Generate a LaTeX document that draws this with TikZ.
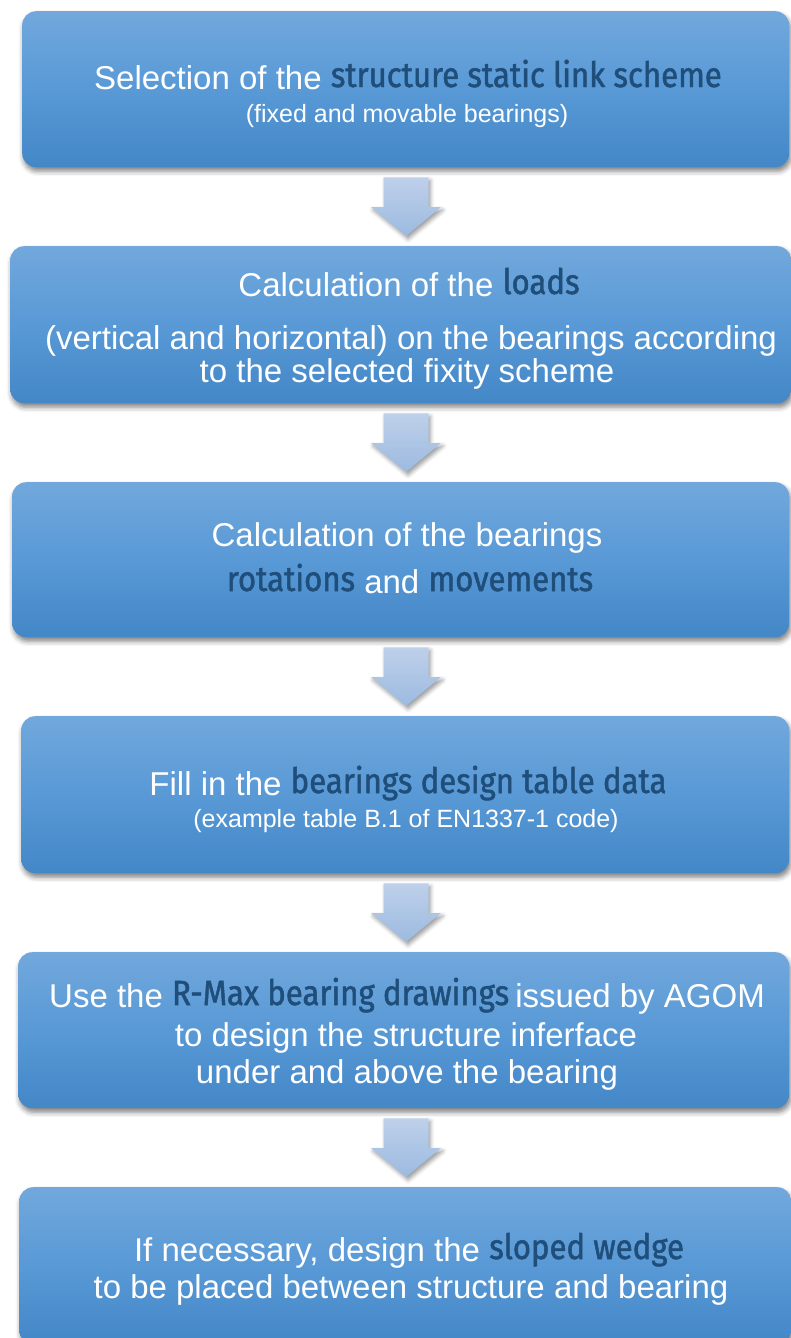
\documentclass[tikz,border=0pt]{standalone}
\usepackage{fontspec}
\setmainfont{Liberation Sans}
\newfontfamily\hlfont{Fira Sans}[FakeBold=1.4,FakeStretch=0.89]
\usetikzlibrary{shadows.blur,calc}

\definecolor{boxtop}{RGB}{114,168,220}
\definecolor{boxmid}{RGB}{88,153,214}
\definecolor{boxbot}{RGB}{68,135,199}
\definecolor{arrtop}{RGB}{190,208,234}
\definecolor{arrbot}{RGB}{156,186,224}
\definecolor{hltext}{RGB}{31,78,122}

% emphasised key words inside a step
\newcommand\hl[1]{\raisebox{2pt}{\color{hltext}\hlfont\fontsize{35}{40}\selectfont #1}}

% block arrow from the bottom of one step to the top of the next
\newcommand\flowarrow[2]{%
  \path[blockarrow] let \p1=(#1.south), \p2=(#2.north) in
    (383.5pt,\y1-10pt) -- (428.5pt,\y1-10pt) -- (428.5pt,\y2+39pt) -- (441pt,\y2+39pt)
    -- (406pt,\y2+10pt) -- (371pt,\y2+39pt) -- (383.5pt,\y2+39pt) -- cycle;}

\begin{document}
\begin{tikzpicture}[x=1pt,y=-1pt,
  stepbox/.style={rounded corners=14pt, top color=boxtop, bottom color=boxbot,
    middle color=boxmid, inner sep=0pt, anchor=north west,
    blur shadow={shadow xshift=1.5pt, shadow yshift=-4pt, shadow blur radius=5pt, shadow opacity=50}},
  maintext/.style={text=white, font=\fontsize{33}{38}\selectfont, anchor=base, inner sep=0pt},
  subtext/.style={maintext, font=\fontsize{25}{30}\selectfont},
  blockarrow/.style={top color=arrtop, bottom color=arrbot,
    blur shadow={shadow xshift=2pt, shadow yshift=-3pt, shadow blur radius=4pt, shadow opacity=40}}]
\useasboundingbox (0,0) rectangle (790,1338);

% the six steps
\node[stepbox, minimum width=767pt, minimum height=156pt] (b1) at (22,11) {};
\node[stepbox, minimum width=781pt, minimum height=157pt] (b2) at (10,246) {};
\node[stepbox, minimum width=777pt, minimum height=155pt] (b3) at (12,482) {};
\node[stepbox, minimum width=768pt, minimum height=157pt] (b4) at (21,716) {};
\node[stepbox, minimum width=771pt, minimum height=156pt] (b5) at (18,952) {};
\node[stepbox, minimum width=772pt, minimum height=157pt] (b6) at (19,1187) {};

% arrows between the steps
\flowarrow{b1}{b2}
\flowarrow{b2}{b3}
\flowarrow{b3}{b4}
\flowarrow{b4}{b5}
\flowarrow{b5}{b6}

% step texts
\node[maintext] (t1a) at (408,89) {Selection of the \hl{structure static link scheme}};
\node[subtext]  (t1b) at (407,122) {(fixed and movable bearings)};

\node[maintext] (t2a) at (409,296) {Calculation of the \hl{loads}};
\node[maintext] (t2b) at (411,349) {(vertical and horizontal) on the bearings according};
\node[maintext] (t2c) at (407,382) {to the selected fixity scheme};

\node[maintext] (t3a) at (407,546) {Calculation of the bearings};
\node[maintext] (t3b) at (410,593) {\hl{rotations} and \hl{movements}};

\node[maintext] (t4a) at (408,795) {Fill in the \hl{bearings design table data}};
\node[subtext]  (t4b) at (406,827) {(example table B.1 of EN1337-1 code)};

\node[maintext] (t5a) at (407,1007) {Use the \hl{R-Max bearing drawings}\kern-3pt\ issued by AGOM};
\node[maintext] (t5b) at (406,1046) {to design the structure inferface};
\node[maintext] (t5c) at (407,1083) {under and above the bearing};

\node[maintext] (t6a) at (409,1261) {If necessary, design the \hl{sloped wedge}};
\node[maintext] (t6b) at (411,1298) {to be placed between structure and bearing};
\end{tikzpicture}
\end{document}
